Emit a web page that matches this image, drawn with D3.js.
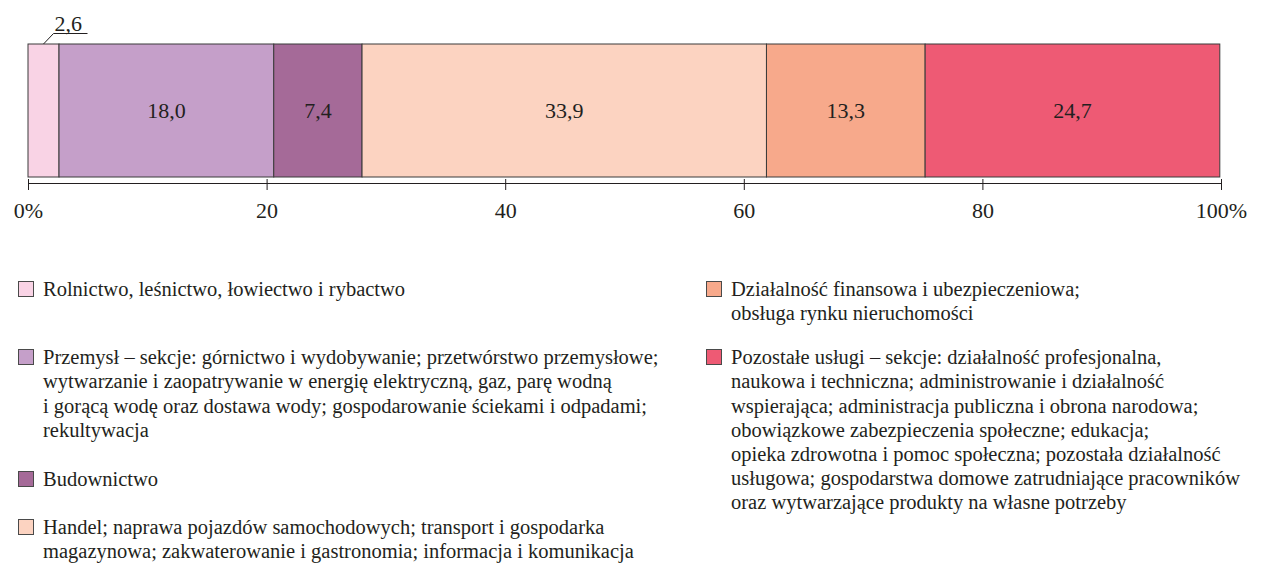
<!DOCTYPE html>
<html>
<head>
<meta charset="utf-8">
<script src="https://cdn.jsdelivr.net/npm/d3@7"></script>
</head>
<body style="margin:0;padding:0;background:#fff">
<svg id="chart" width="1262" height="563" style="display:block"></svg>
<script>
// ---- DATA ----
const categories = [
  "Rolnictwo",
  "Przemysł",
  "Budownictwo",
  "Handel",
  "Działalność finansowa",
  "Pozostałe usługi"
];
const values = [2.6, 18.0, 7.4, 33.9, 13.3, 24.7];
const valueLabels = ["2,6", "18,0", "7,4", "33,9", "13,3", "24,7"];
const colors = ["#f9d3e5", "#c59fc9", "#a56a98", "#fcd3c1", "#f7a98b", "#ee5a74"];
const tickValues = [0, 20, 40, 60, 80, 100];
const tickLabels = ["0%", "20", "40", "60", "80", "100%"];
const legendLines = [
  ["Rolnictwo, leśnictwo, łowiectwo i rybactwo"],
  ["Przemysł – sekcje: górnictwo i wydobywanie; przetwórstwo przemysłowe;",
   "wytwarzanie i zaopatrywanie  w energię elektryczną, gaz, parę wodną",
   "i gorącą wodę oraz dostawa wody; gospodarowanie ściekami i odpadami;",
   "rekultywacja"],
  ["Budownictwo"],
  ["Handel; naprawa pojazdów samochodowych; transport i gospodarka",
   "magazynowa; zakwaterowanie i gastronomia; informacja i komunikacja"],
  ["Działalność finansowa i ubezpieczeniowa;",
   "obsługa rynku nieruchomości"],
  ["Pozostałe usługi – sekcje: działalność profesjonalna,",
   "naukowa i techniczna; administrowanie i działalność",
   "wspierająca; administracja publiczna i obrona narodowa;",
   "obowiązkowe zabezpieczenia społeczne; edukacja;",
   "opieka zdrowotna i pomoc społeczna; pozostała działalność",
   "usługowa; gospodarstwa domowe zatrudniające pracowników",
   "oraz wytwarzające produkty na własne potrzeby"]
];

// ---- LAYOUT ----
const FONT = "Liberation Serif";
const textColor = "#231f20";
const svg = d3.select("#chart");
const x = d3.scaleLinear().domain([0, 100]).range([28, 1221]);
const barTop = 44, barBottom = 177;

let cum = 0;
const segs = values.map((v, i) => {
  const s = { i, v, x0: cum, x1: cum + v, label: valueLabels[i], color: colors[i] };
  cum += v;
  return s;
});

svg.append("g").selectAll("rect").data(segs).join("rect")
  .attr("x", d => x(d.x0))
  .attr("y", barTop)
  .attr("width", d => x(d.x1) - x(d.x0))
  .attr("height", barBottom - barTop)
  .attr("fill", d => d.color)
  .attr("stroke", "#3a3a3a")
  .attr("stroke-width", 1);

svg.append("g").selectAll("text").data(segs.filter(d => d.i > 0)).join("text")
  .attr("x", d => x((d.x0 + d.x1) / 2))
  .attr("y", (barTop + barBottom) / 2)
  .attr("dy", "0.35em")
  .attr("text-anchor", "middle")
  .attr("font-family", FONT)
  .attr("font-size", 22)
  .attr("fill", textColor)
  .text(d => d.label);

const s0 = segs[0];
const cx = x((s0.x0 + s0.x1) / 2);
svg.append("path")
  .attr("d", `M${cx},${barTop} L${cx + 10},${barTop - 10.5} L${cx + 44},${barTop - 10.5}`)
  .attr("fill", "none").attr("stroke", "#231f20").attr("stroke-width", 1);
svg.append("text")
  .attr("x", cx + 11).attr("y", 31)
  .attr("font-family", FONT).attr("font-size", 22)
  .attr("fill", textColor)
  .text(s0.label);

const axisY = 183.5;
const ax = svg.append("g").attr("transform", `translate(0,${axisY})`)
  .call(d3.axisBottom(x).tickValues(tickValues).tickSize(6.5).tickFormat((d, i) => tickLabels[i]));
ax.attr("font-family", null).attr("font-size", null).attr("text-anchor", null).attr("fill", null);
ax.select(".domain").attr("stroke", "#231f20").attr("d", `M${x(0)},0H${x(100)}`);
ax.selectAll(".tick line").attr("stroke", "#231f20").attr("y1", -4.5);
ax.selectAll(".tick text")
  .attr("font-family", FONT)
  .attr("font-size", 22)
  .attr("text-anchor", "middle")
  .attr("fill", textColor)
  .attr("y", 27)
  .attr("dy", "0.35em");

const lineH = 24.2;
const legendPos = [
  { x: 18, y: 289 }, { x: 18, y: 357 }, { x: 18, y: 479 }, { x: 18, y: 527 },
  { x: 706, y: 289 }, { x: 706, y: 357 }
];
const lg = svg.append("g");
legendLines.forEach((lines, i) => {
  const p = legendPos[i];
  lg.append("rect")
    .attr("x", p.x + 0.5).attr("y", p.y - 7.5)
    .attr("width", 15).attr("height", 15)
    .attr("fill", colors[i]).attr("stroke", "#4a4a4a").attr("stroke-width", 1);
  lines.forEach((ln, j) => {
    lg.append("text")
      .attr("font-family", FONT).attr("font-size", 20.5)
      .attr("fill", textColor)
      .attr("x", p.x + 25)
      .attr("y", p.y + j * lineH)
      .attr("dy", "0.35em")
      .text(ln);
  });
});
</script>
</body>
</html>
